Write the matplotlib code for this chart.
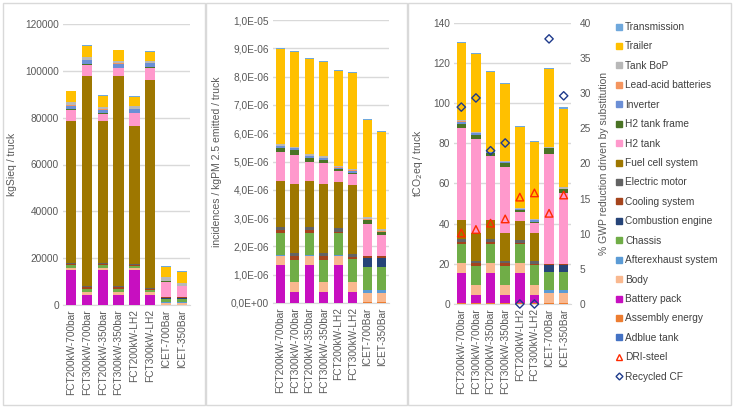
import numpy as np
import matplotlib
matplotlib.use('Agg')
import matplotlib.pyplot as plt
from matplotlib.patches import Rectangle
from matplotlib.lines import Line2D
from matplotlib.ticker import FuncFormatter

plt.rcParams['font.family'] = ['Liberation Sans', 'DejaVu Sans']

cats = ['FCT200kW-700bar', 'FCT300kW-700bar', 'FCT200kW-350bar', 'FCT300kW-350bar',
        'FCT200kW-LH2', 'FCT300kW-LH2', 'ICET-700Bar', 'ICET-350Bar']

# stack order, bottom -> top
comps = ['Adblue tank', 'Assembly energy', 'Battery pack', 'Body', 'Afterexhaust system',
         'Chassis', 'Combustion engine', 'Cooling system', 'Electric motor', 'Fuel cell system',
         'H2 tank', 'H2 tank frame', 'Inverter', 'Lead-acid batteries', 'Tank BoP',
         'Trailer', 'Transmission']
colors = ['#4472c4', '#ed7d31', '#c70fc0', '#f9b88f', '#5b9bd5',
          '#70ad47', '#264478', '#a5441c', '#636363', '#9e7700',
          '#ff99cc', '#4a7325', '#6b8fd6', '#f4955f', '#b8b8b8',
          '#ffc000', '#6fa8dc']

# kgSieq / truck, one row per bar, columns follow comps
sieq = [
    [0, 100, 14800, 900, 100, 1200, 0, 500, 400, 60500, 4900, 300, 1400, 200, 1200, 4700, 300],
    [0, 100, 4200, 1100, 100, 1500, 0, 800, 500, 89300, 5000, 300, 1700, 200, 1000, 4700, 400],
    [0, 100, 14800, 900, 100, 1200, 0, 500, 400, 60400, 3200, 300, 1400, 200, 1200, 4700, 300],
    [0, 100, 4200, 1100, 100, 1500, 0, 800, 500, 89300, 3500, 300, 1600, 200, 1000, 4500, 300],
    [0, 100, 14800, 900, 100, 700, 0, 500, 300, 59100, 5300, 300, 1500, 200, 1200, 3800, 300],
    [0, 100, 4200, 1100, 100, 700, 0, 600, 400, 88700, 5300, 300, 1700, 200, 900, 3700, 300],
    [100, 100, 0, 500, 500, 1300, 600, 300, 0, 0, 6600, 200, 0, 200, 1500, 4500, 300],
    [100, 100, 0, 500, 500, 1300, 600, 300, 0, 0, 4600, 100, 0, 200, 1200, 4600, 300],
]

# incidences / kgPM2.5 emitted / truck (x 1e-6)
pm = [
    [0, .01, 1.32, .34, .02, .80, 0, .10, .09, 1.64, 1.01, .14, .07, .02, .06, 3.36, .03],
    [0, .01, .38, .34, .02, .78, 0, .14, .09, 2.45, 1.03, .15, .08, .02, .04, 3.35, .03],
    [0, .01, 1.32, .34, .02, .80, 0, .10, .09, 1.64, .68, .12, .06, .03, .06, 3.35, .03],
    [0, .01, .38, .34, .02, .78, 0, .14, .09, 2.45, .73, .10, .07, .02, .07, 3.33, .03],
    [0, .01, 1.32, .34, .02, .79, 0, .04, .14, 1.62, .39, .05, .06, .02, .04, 3.37, .04],
    [0, .01, .38, .34, .02, .80, 0, .06, .13, 2.42, .39, .06, .06, .02, .05, 3.38, .04],
    [.01, .01, 0, .33, .10, .81, .33, .06, 0, 0, 1.15, .14, 0, .04, .07, 3.41, .05],
    [.01, .01, 0, .33, .10, .81, .33, .06, 0, 0, .77, .09, 0, .04, .05, 3.43, .04],
]

# tCO2eq / truck
gwp = [
    [0, .3, 15.3, 4.6, .1, 9.6, 0, 1.0, 1.3, 9.6, 45.9, 1.7, 1.2, .3, .5, 38.4, .6],
    [0, .3, 4.2, 4.8, .1, 9.5, 0, 1.3, 1.3, 14.0, 46.5, 2.0, 1.0, .3, .5, 38.5, .6],
    [0, .3, 15.3, 4.6, .1, 9.6, 0, 1.0, 1.3, 9.6, 31.8, 1.4, .5, .1, .2, 39.5, .5],
    [0, .3, 4.2, 4.8, .1, 9.5, 0, 1.3, 1.3, 14.0, 32.8, 1.7, .8, .1, .3, 38.3, .5],
    [0, .3, 15.3, 4.6, .1, 9.6, 0, .5, 1.5, 9.2, 4.8, .8, .6, .2, .4, 40.1, .5],
    [0, .3, 4.2, 4.8, .1, 10.0, 0, .5, 1.3, 14.0, 5.0, .7, .8, .1, .4, 38.6, .5],
    [.1, .3, 0, 4.9, 1.7, 9.1, 3.3, .5, 0, 0, 54.7, 2.9, 0, .2, .6, 38.5, .6],
    [.1, .3, 0, 4.9, 1.7, 9.1, 3.3, .5, 0, 0, 35.2, 2.0, 0, .2, .7, 39.2, .6],
]

# % GWP reduction driven by substitution
dri_steel = [10.1, 10.6, 11.5, 12.1, 15.2, 15.8, 12.9, 15.5]
recycled_cf = [28.0, 29.3, 21.8, 22.9, 0, 0, 37.7, 29.6]

W, H = 733, 408
fig = plt.figure(figsize=(W / 100, H / 100), dpi=100)
txt = '#595959'
grid = '#d9d9d9'

def box(x0, y0, x1, y1):
    # pixel box -> figure fraction
    return [x0 / W, 1 - y1 / H, (x1 - x0) / W, (y1 - y0) / H]

# panel frames
for x0, x1 in [(3, 205), (206, 407), (408, 731)]:
    fig.add_artist(Rectangle((x0 / W, 3 / H), (x1 - x0) / W, 402 / H, transform=fig.transFigure,
                             fill=False, edgecolor=grid, lw=1))

def stacked(ax, data, scale=1.0):
    data = np.array(data, dtype=float) * scale
    x = np.arange(len(cats))
    bottom = np.zeros(len(cats))
    for j, c in enumerate(comps):
        ax.bar(x, data[:, j], 0.65, bottom=bottom, color=colors[j], linewidth=0, zorder=3)
        bottom += data[:, j]
    ax.set_xlim(-0.5, len(cats) - 0.5)
    ax.set_xticks(x)
    ax.set_xticklabels(cats, rotation=90, fontsize=7.3, color=txt)
    ax.yaxis.grid(True, color=grid, lw=1, zorder=0)
    for s in ['top', 'right', 'left']:
        ax.spines[s].set_visible(False)
    ax.spines['bottom'].set_color(grid)
    ax.tick_params(length=0, labelsize=7.3, colors=txt, pad=3)

ax1 = fig.add_axes(box(63, 24, 190, 305))
stacked(ax1, sieq)
ax1.set_ylim(0, 120000)
ax1.set_yticks(np.arange(0, 120001, 20000))
ax1.set_ylabel('kgSieq / truck', fontsize=7.5, color=txt, labelpad=6)

ax2 = fig.add_axes(box(273, 20, 389, 303))
stacked(ax2, pm, 1e-6)
ax2.set_ylim(0, 1e-5)
ax2.set_yticks(np.arange(0, 11) * 1e-6)
ax2.yaxis.set_major_formatter(FuncFormatter(lambda v, p: ('%.1E' % v).replace('.', ',')))
ax2.set_ylabel('incidences / kgPM 2.5 emitted / truck', fontsize=7.5, color=txt, labelpad=6)

ax3 = fig.add_axes(box(454, 22.7, 571, 304))
stacked(ax3, gwp)
ax3.set_ylim(0, 140)
ax3.set_yticks(np.arange(0, 141, 20))
ax3.set_ylabel('tCO$_2$eq / truck', fontsize=7.5, color=txt, labelpad=6)

ax4 = ax3.twinx()
ax4.set_ylim(0, 40)
ax4.set_yticks(np.arange(0, 41, 5))
for s in ax4.spines.values():
    s.set_visible(False)
ax4.tick_params(length=0, labelsize=7.3, colors=txt, pad=6)
xs = np.arange(len(cats))
ax4.scatter(xs, dri_steel, marker='^', s=30, facecolors='none', edgecolors='#ff2a00', linewidths=1, zorder=5, clip_on=False)
ax4.scatter(xs, recycled_cf, marker='D', s=18, facecolors='none', edgecolors='#1f3b8c', linewidths=1, zorder=5, clip_on=False)
ax4.set_ylabel('% GWP reduction driven by substitution', fontsize=7.5, color=txt, labelpad=6)

# legend
handles = []
labels = []
for j in range(len(comps) - 1, -1, -1):
    handles.append(Line2D([], [], marker='s', ls='none', markersize=4, color=colors[j]))
    labels.append(comps[j])
handles.append(Line2D([], [], marker='^', ls='none', markersize=5, markerfacecolor='none',
                      markeredgecolor='#ff2a00', markeredgewidth=1))
labels.append('DRI-steel')
handles.append(Line2D([], [], marker='D', ls='none', markersize=3.5, markerfacecolor='none',
                      markeredgecolor='#1f3b8c', markeredgewidth=1))
labels.append('Recycled CF')
leg = fig.legend(handles, labels, loc='upper left', bbox_to_anchor=(612 / W, 1 - 18 / H),
                 frameon=False, fontsize=7.3, labelspacing=0.93, handlelength=0.6,
                 handletextpad=0.3, borderaxespad=0)
for t in leg.get_texts():
    t.set_color('#404040')

fig.savefig('out.png', dpi=100)
